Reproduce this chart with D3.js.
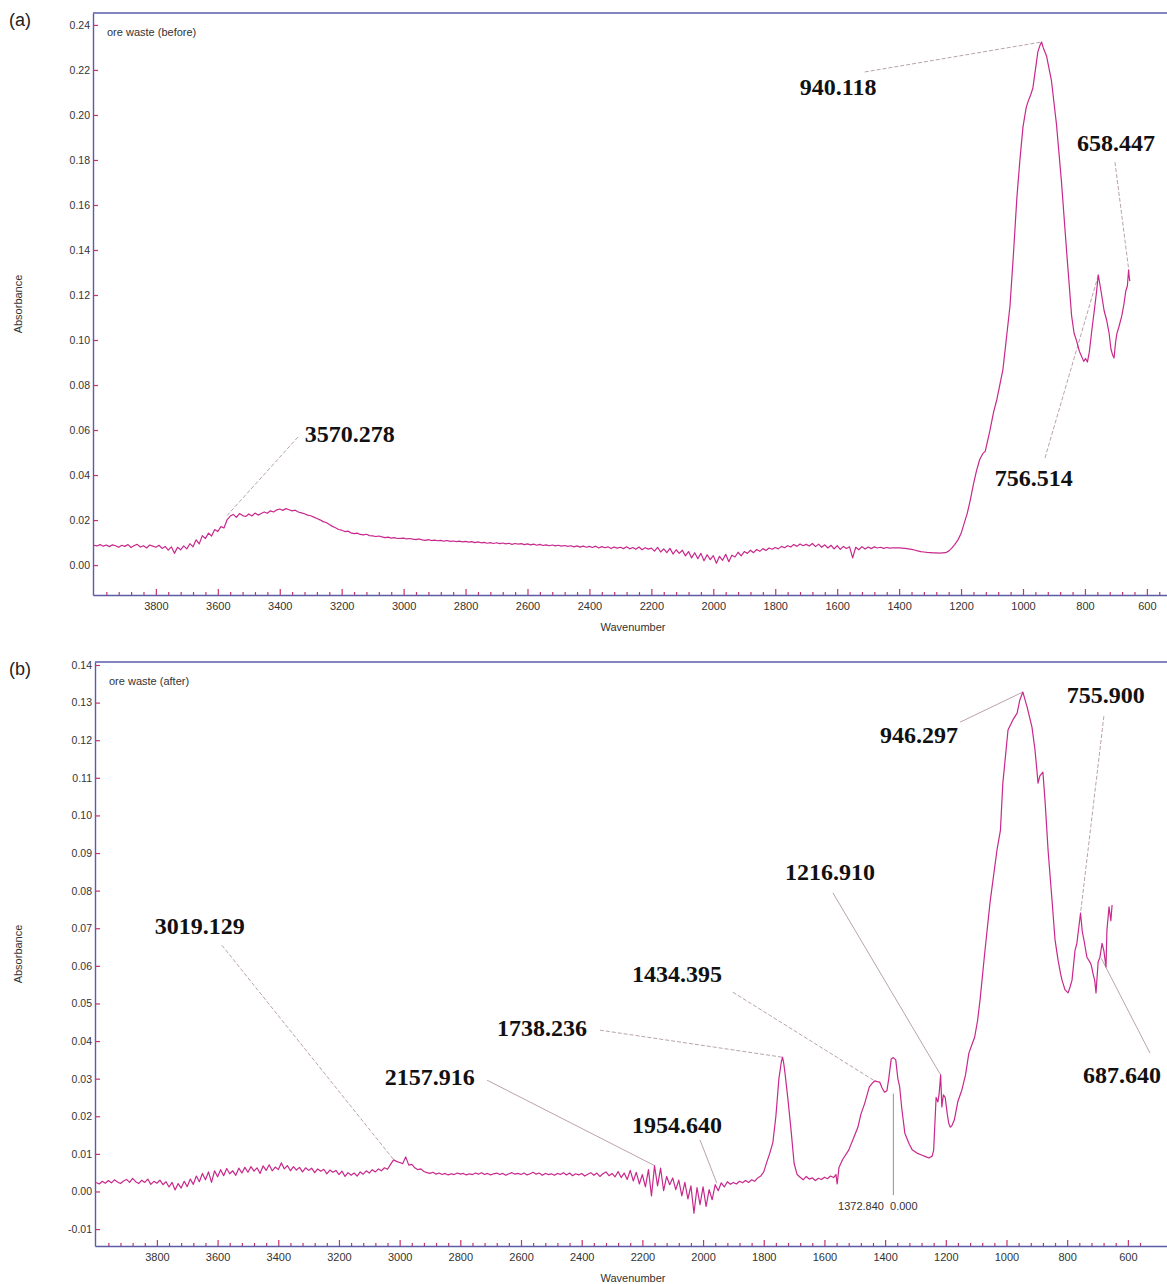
<!DOCTYPE html>
<html>
<head>
<meta charset="utf-8">
<script src="https://cdn.jsdelivr.net/npm/d3@7"></script>
<style>
  body { margin: 0; background: #fff; }
  svg text { font-family: "Liberation Sans", Arial, sans-serif; }
</style>
</head>
<body>
<svg id="chart" width="1167" height="1284"></svg>
<script>
// ---- panel (a): ore waste (before) ----
// baseline part, read every 10 cm-1 from 4000 down to 1260
var beforeBase = [
  0.0088, 0.0085, 0.0091, 0.0084, 0.0089, 0.0082, 0.0090, 0.0086, 0.0079, 0.0088,
  0.0083, 0.0091, 0.0078, 0.0087, 0.0092, 0.0080, 0.0086, 0.0076, 0.0089, 0.0084,
  0.0079, 0.0088, 0.0074, 0.0083, 0.0066, 0.0081, 0.0052, 0.0079, 0.0068, 0.0085,
  0.0072, 0.0095, 0.0081, 0.0112, 0.0094, 0.0131, 0.0118, 0.0142, 0.0129, 0.0158,
  0.0149, 0.0171, 0.0165, 0.0201, 0.0218, 0.0225, 0.0212, 0.0229, 0.0220, 0.0216,
  0.0227, 0.0218, 0.0231, 0.0222, 0.0229, 0.0236, 0.0230, 0.0241, 0.0236, 0.0245,
  0.0249, 0.0243, 0.0251, 0.0246, 0.0241, 0.0244, 0.0236, 0.0232, 0.0228, 0.0222,
  0.0219, 0.0213, 0.0207, 0.0201, 0.0193, 0.0189, 0.0180, 0.0172, 0.0166, 0.0158,
  0.0155, 0.0149, 0.0151, 0.0143, 0.0140, 0.0142, 0.0136, 0.0134, 0.0137, 0.0131,
  0.0130, 0.0127, 0.0129, 0.0125, 0.0122, 0.0124, 0.0120, 0.0122, 0.0118, 0.0119,
  0.0120, 0.0116, 0.0118, 0.0115, 0.0113, 0.0116, 0.0112, 0.0110, 0.0113, 0.0109,
  0.0111, 0.0108, 0.0110, 0.0106, 0.0109, 0.0105, 0.0107, 0.0104, 0.0106, 0.0103,
  0.0105, 0.0102, 0.0104, 0.0100, 0.0103, 0.0099, 0.0101, 0.0097, 0.0100, 0.0096,
  0.0099, 0.0095, 0.0098, 0.0094, 0.0097, 0.0092, 0.0096, 0.0093, 0.0095, 0.0091,
  0.0094, 0.0090, 0.0093, 0.0088, 0.0092, 0.0087, 0.0090, 0.0086, 0.0089, 0.0085,
  0.0088, 0.0084, 0.0087, 0.0083, 0.0086, 0.0081, 0.0085, 0.0080, 0.0084, 0.0079,
  0.0083, 0.0078, 0.0084, 0.0076, 0.0082, 0.0077, 0.0081, 0.0074, 0.0080, 0.0075,
  0.0079, 0.0073, 0.0081, 0.0072, 0.0078, 0.0070, 0.0080, 0.0068, 0.0077, 0.0071,
  0.0075, 0.0062, 0.0079, 0.0058, 0.0072, 0.0055, 0.0074, 0.0049, 0.0068, 0.0052,
  0.0066, 0.0041, 0.0060, 0.0032, 0.0055, 0.0028, 0.0052, 0.0019, 0.0046, 0.0024,
  0.0042, 0.0008, 0.0039, 0.0021, 0.0048, 0.0015, 0.0044, 0.0036, 0.0057, 0.0041,
  0.0060, 0.0052, 0.0066, 0.0055, 0.0069, 0.0061, 0.0073, 0.0065, 0.0076, 0.0070,
  0.0078, 0.0072, 0.0083, 0.0077, 0.0086, 0.0080, 0.0091, 0.0083, 0.0094, 0.0086,
  0.0092, 0.0085, 0.0096, 0.0082, 0.0093, 0.0079, 0.0090, 0.0076, 0.0088, 0.0072,
  0.0086, 0.0070, 0.0083, 0.0074, 0.0081, 0.0032, 0.0079, 0.0068, 0.0082, 0.0071,
  0.0080, 0.0073, 0.0081, 0.0076, 0.0079, 0.0074, 0.0078, 0.0075, 0.0077, 0.0076,
  0.0076, 0.0075, 0.0074, 0.0072, 0.0070, 0.0067, 0.0063, 0.0060, 0.0058, 0.0056,
  0.0055, 0.0054, 0.0054, 0.0053, 0.0054
];
// band region [wavenumber, absorbance]
var beforeBands = [
  [1250, 0.0055], [1240, 0.0062], [1230, 0.0075], [1220, 0.0092], [1210, 0.0112],
  [1200, 0.0140], [1190, 0.0185], [1180, 0.0230], [1170, 0.0290], [1160, 0.0360],
  [1150, 0.0420], [1140, 0.0468], [1130, 0.0495], [1122, 0.0505], [1107, 0.0596],
  [1095, 0.0680], [1084, 0.0738], [1065, 0.0867], [1055, 0.0990], [1042, 0.1151],
  [1030, 0.1400], [1020, 0.1627], [1010, 0.1800], [1000, 0.1947], [990, 0.2030],
  [984, 0.2058], [975, 0.2090], [968, 0.2120], [960, 0.2200], [952, 0.2280],
  [945, 0.2310], [940, 0.2324], [935, 0.2300], [924, 0.2262], [908, 0.2151],
  [892, 0.1960], [876, 0.1707], [859, 0.1391], [843, 0.1107], [835, 0.1030],
  [827, 0.0996], [818, 0.0950], [810, 0.0925], [804, 0.0905], [798, 0.0918],
  [792, 0.0902], [786, 0.0945], [778, 0.1040], [768, 0.1151], [762, 0.1220],
  [757, 0.1289], [752, 0.1250], [746, 0.1200], [738, 0.1130], [730, 0.1089],
  [722, 0.1030], [716, 0.0960], [711, 0.0935], [706, 0.0920], [701, 0.0990],
  [697, 0.1027], [690, 0.1060], [681, 0.1107], [674, 0.1160], [668, 0.1218],
  [663, 0.1240], [659, 0.1311], [657, 0.1280], [655, 0.1262]
];

// ---- panel (b): ore waste (after) ----
// baseline part, every 10 cm-1 from 4000 down to 1880
var afterBase = [
  0.0024, 0.0020, 0.0027, 0.0022, 0.0029, 0.0023, 0.0031, 0.0025, 0.0021, 0.0028,
  0.0032, 0.0024, 0.0035, 0.0026, 0.0021, 0.0030, 0.0024, 0.0033, 0.0019, 0.0027,
  0.0022, 0.0030, 0.0018, 0.0026, 0.0012, 0.0024, 0.0004, 0.0021, 0.0009, 0.0027,
  0.0013, 0.0033, 0.0019, 0.0041, 0.0026, 0.0048, 0.0031, 0.0052, 0.0024, 0.0055,
  0.0039, 0.0058, 0.0042, 0.0061, 0.0047, 0.0055, 0.0043, 0.0062, 0.0049, 0.0064,
  0.0051, 0.0066, 0.0054, 0.0063, 0.0048, 0.0068, 0.0056, 0.0071, 0.0055, 0.0065,
  0.0058, 0.0076, 0.0060, 0.0069, 0.0055, 0.0066, 0.0057, 0.0064, 0.0052, 0.0063,
  0.0056, 0.0062, 0.0050, 0.0060, 0.0054, 0.0059, 0.0047, 0.0057, 0.0051, 0.0056,
  0.0045, 0.0054, 0.0040, 0.0050, 0.0043, 0.0049, 0.0041, 0.0052, 0.0046, 0.0055,
  0.0049, 0.0058, 0.0052, 0.0060, 0.0055, 0.0063, 0.0059, 0.0072, 0.0084, 0.0080,
  0.0077, 0.0074, 0.0092, 0.0070, 0.0072, 0.0063, 0.0058, 0.0060, 0.0053, 0.0050,
  0.0048, 0.0051, 0.0046, 0.0049, 0.0045, 0.0048, 0.0044, 0.0047, 0.0045, 0.0049,
  0.0046, 0.0048, 0.0044, 0.0047, 0.0045, 0.0049, 0.0046, 0.0050, 0.0045, 0.0048,
  0.0044, 0.0047, 0.0049, 0.0045, 0.0048, 0.0043, 0.0047, 0.0050, 0.0046, 0.0048,
  0.0045, 0.0049, 0.0044, 0.0047, 0.0051, 0.0046, 0.0049, 0.0043, 0.0048, 0.0045,
  0.0047, 0.0043, 0.0048, 0.0045, 0.0050, 0.0044, 0.0049, 0.0042, 0.0047, 0.0044,
  0.0048, 0.0041, 0.0046, 0.0050, 0.0043, 0.0049, 0.0040, 0.0047, 0.0052, 0.0042,
  0.0048, 0.0039, 0.0053, 0.0037, 0.0049, 0.0032, 0.0056, 0.0028, 0.0051, 0.0020,
  0.0045, 0.0012, 0.0058, -0.0012, 0.0068, 0.0015, 0.0062, 0.0002, 0.0040, 0.0018,
  0.0036, 0.0005, 0.0030, -0.0012, 0.0024, -0.0020, 0.0015, -0.0058, 0.0010, -0.0035,
  0.0012, -0.0040, 0.0005, -0.0022, 0.0018, 0.0002, 0.0023, 0.0012, 0.0026, 0.0019,
  0.0024, 0.0020, 0.0027
];
var afterBands = [
  [1870, 0.0023], [1860, 0.0029], [1850, 0.0024], [1840, 0.0031], [1830, 0.0027],
  [1820, 0.0036], [1810, 0.0041], [1800, 0.0052], [1790, 0.0078], [1780, 0.0102],
  [1770, 0.0130], [1760, 0.0200], [1750, 0.0300], [1742, 0.0345], [1738, 0.0357],
  [1734, 0.0340], [1730, 0.0315], [1720, 0.0243], [1710, 0.0163], [1700, 0.0075],
  [1690, 0.0045], [1680, 0.0038], [1670, 0.0031], [1660, 0.0040], [1650, 0.0033],
  [1640, 0.0036], [1630, 0.0029], [1620, 0.0035], [1610, 0.0032], [1600, 0.0038],
  [1590, 0.0034], [1580, 0.0041], [1570, 0.0037], [1562, 0.0045], [1558, 0.0020],
  [1552, 0.0064], [1540, 0.0085], [1520, 0.0110], [1500, 0.0150], [1490, 0.0170],
  [1480, 0.0205], [1467, 0.0235], [1452, 0.0278], [1440, 0.0290], [1434, 0.0294],
  [1426, 0.0292], [1418, 0.0291], [1410, 0.0275], [1402, 0.0264], [1394, 0.0268],
  [1388, 0.0300], [1380, 0.0352], [1373, 0.0356], [1365, 0.0350], [1358, 0.0300],
  [1352, 0.0278], [1345, 0.0220], [1335, 0.0155], [1320, 0.0125], [1310, 0.0110],
  [1295, 0.0102], [1280, 0.0097], [1265, 0.0092], [1256, 0.0089], [1245, 0.0094],
  [1240, 0.0110], [1232, 0.0250], [1226, 0.0238], [1222, 0.0260], [1217, 0.0310],
  [1213, 0.0225], [1208, 0.0257], [1202, 0.0250], [1195, 0.0205], [1190, 0.0180],
  [1185, 0.0171], [1180, 0.0175], [1172, 0.0190], [1160, 0.0240], [1147, 0.0270],
  [1135, 0.0310], [1124, 0.0368], [1112, 0.0395], [1105, 0.0410], [1095, 0.0456],
  [1087, 0.0510], [1071, 0.0640], [1054, 0.0770], [1031, 0.0910], [1020, 0.0960],
  [1012, 0.1086], [995, 0.1227], [979, 0.1254], [965, 0.1272], [956, 0.1307],
  [946, 0.1328], [932, 0.1288], [916, 0.1235], [906, 0.1174], [896, 0.1086],
  [890, 0.1105], [880, 0.1115], [873, 0.1040], [863, 0.0908], [850, 0.0775],
  [840, 0.0669], [830, 0.0615], [822, 0.0580], [817, 0.0562], [807, 0.0536],
  [797, 0.0528], [790, 0.0545], [784, 0.0562], [774, 0.0642], [768, 0.0660],
  [762, 0.0700], [756, 0.0740], [750, 0.0690], [745, 0.0670], [735, 0.0623],
  [725, 0.0610], [720, 0.0600], [715, 0.0580], [709, 0.0560], [705, 0.0528],
  [698, 0.0610], [692, 0.0623], [685, 0.0660], [679, 0.0640], [672, 0.0597],
  [669, 0.0695], [662, 0.0757], [656, 0.0720], [652, 0.0762]
];

// ticks
var xMajorTicks = [3800, 3600, 3400, 3200, 3000, 2800, 2600, 2400, 2200, 2000, 1800, 1600, 1400, 1200, 1000, 800, 600];
var aYTicks = [0.00, 0.02, 0.04, 0.06, 0.08, 0.10, 0.12, 0.14, 0.16, 0.18, 0.20, 0.22, 0.24];
var bYTicks = [-0.01, 0.00, 0.01, 0.02, 0.03, 0.04, 0.05, 0.06, 0.07, 0.08, 0.09, 0.10, 0.11, 0.12, 0.13, 0.14];

// peak annotations: value, where the text sits and where the leader starts (data units)
var aPeakText = ["940.118", "658.447", "756.514", "3570.278"];
var aPeakWn   = [940.118, 658.447, 756.514, 3570.278];
var aPeakAbs  = [0.2324, 0.1311, 0.1289, 0.0220];
var aTextWn   = [1721, 826, 1091, 3319];
var aTextAbs  = [0.2089, 0.1840, 0.0351, 0.0547];
var aLeadWn   = [1511, 703, 929, 3341];
var aLeadAbs  = [0.2191, 0.1790, 0.0476, 0.0569];

var bPeakText = ["946.297", "755.900", "1216.910", "3019.129", "1434.395", "1738.236", "2157.916", "1954.640", "687.640"];
var bPeakWn   = [946.297, 755.900, 1216.910, 3019.129, 1434.395, 1738.236, 2157.916, 1954.640, 687.640];
var bPeakAbs  = [0.1328, 0.0740, 0.0310, 0.0084, 0.0294, 0.0357, 0.0068, 0.0022, 0.0620];
var bTextWn   = [1417, 801, 1730, 3807, 2234, 2679, 3049, 2234, 748];
var bTextAbs  = [0.1193, 0.1299, 0.0828, 0.0684, 0.0557, 0.0413, 0.0283, 0.0155, 0.0288];
var bLeadWn   = [1153, 679, 1572, 3586, 1902, 2340, 2712, 2010, 527];
var bLeadAbs  = [0.1248, 0.1264, 0.0794, 0.0655, 0.0530, 0.0429, 0.0296, 0.0137, 0.0368];

var W = 1167;
var svg = d3.select("#chart");
var axisBlue = "#5b5ba8";
var tickRed = "#c8326e";
var curveColor = "#c8288c";

function toSeries(grid, vals, bands) {
  return grid.map(function(w, i) { return [w, vals[i]]; }).concat(bands);
}

function drawPanel(p) {
  var g = svg.append("g");
  var x = d3.scaleLinear().domain(p.xDomain).range([p.left, W]);
  var y = d3.scaleLinear().domain(p.yDomain).range([p.bottom, p.top]);

  g.append("clipPath").attr("id", p.id + "-clip")
    .append("rect").attr("x", p.left).attr("y", p.top)
    .attr("width", W - p.left).attr("height", p.bottom - p.top);

  // top frame line
  g.append("line")
    .attr("x1", p.left).attr("x2", W).attr("y1", p.top).attr("y2", p.top)
    .attr("stroke", axisBlue).attr("stroke-width", 1.4);

  // y axis
  var yAxis = d3.axisLeft(y).tickValues(p.yTicks)
    .tickFormat(function(d) { return d.toFixed(2); })
    .tickSizeInner(-5).tickSizeOuter(0).tickPadding(3);
  var ya = g.append("g").attr("transform", "translate(" + p.left + ",0)").call(yAxis);
  ya.select(".domain").attr("stroke", axisBlue).attr("stroke-width", 1.4);
  ya.selectAll(".tick line").attr("stroke", tickRed).attr("stroke-width", 1.2);
  ya.selectAll(".tick text").attr("fill", "#333").style("font-size", "10.5px");

  // x axis, major + minor ticks pointing inwards
  var minor = d3.range(3960, 540, -40).filter(function(v) { return v % 200 !== 0; });
  var xMinor = d3.axisBottom(x).tickValues(minor).tickSizeInner(-3).tickSizeOuter(0).tickFormat("");
  var xm = g.append("g").attr("transform", "translate(0," + p.bottom + ")").call(xMinor);
  xm.select(".domain").remove();
  xm.selectAll(".tick line").attr("stroke", tickRed).attr("stroke-width", 1.2);

  var xAxis = d3.axisBottom(x).tickValues(xMajorTicks)
    .tickFormat(function(d) { return String(d); })
    .tickSizeInner(-6).tickSizeOuter(0).tickPadding(7);
  var xa = g.append("g").attr("transform", "translate(0," + p.bottom + ")").call(xAxis);
  xa.select(".domain").attr("stroke", axisBlue).attr("stroke-width", 1.4);
  xa.selectAll(".tick line").attr("stroke", tickRed).attr("stroke-width", 1.2);
  xa.selectAll(".tick text").attr("fill", "#333").style("font-size", "11px");

  // axis titles
  g.append("text").attr("x", 633).attr("y", p.bottom + 36)
    .attr("text-anchor", "middle").attr("fill", "#333").style("font-size", "11px")
    .text("Wavenumber");
  g.append("text")
    .attr("transform", "translate(22," + ((p.top + p.bottom) / 2) + ") rotate(-90)")
    .attr("text-anchor", "middle").attr("fill", "#333").style("font-size", "11px")
    .text("Absorbance");

  // panel letter and sample name
  g.append("text").attr("x", 9).attr("y", p.top + 13)
    .attr("fill", "#222").style("font-size", "18px").text(p.letter);
  g.append("text").attr("x", p.left + 14).attr("y", p.top + 23)
    .attr("fill", "#333").style("font-size", "11px").text(p.name);

  // leader lines
  g.append("g").selectAll("line").data(p.peaks).join("line")
    .attr("x1", function(d) { return x(d.lw); }).attr("y1", function(d) { return y(d.la); })
    .attr("x2", function(d) { return x(d.w); }).attr("y2", function(d) { return y(d.a); })
    .attr("stroke", "#b9a3ab").attr("stroke-width", 1)
    .attr("stroke-dasharray", function(d) { return d.dash ? "4,2" : null; });

  // spectrum
  var line = d3.line().x(function(d) { return x(d[0]); }).y(function(d) { return y(d[1]); });
  g.append("path").datum(p.series)
    .attr("clip-path", "url(#" + p.id + "-clip)")
    .attr("d", line).attr("fill", "none")
    .attr("stroke", curveColor).attr("stroke-width", 1.2).attr("stroke-linejoin", "round");

  // peak labels
  g.append("g").selectAll("text").data(p.peaks).join("text")
    .attr("x", function(d) { return x(d.tw); }).attr("y", function(d) { return y(d.ta); })
    .style("font-family", "'Liberation Serif', 'Times New Roman', serif")
    .style("font-weight", "bold").style("font-size", "24px").attr("fill", "#111")
    .text(function(d) { return d.text; });

  return { x: x, y: y, g: g };
}

function peaks(text, wn, abs, tw, ta, lw, la, solid) {
  return text.map(function(t, i) {
    return { text: t, w: wn[i], a: abs[i], tw: tw[i], ta: ta[i], lw: lw[i], la: la[i], dash: solid.indexOf(t) < 0 };
  });
}

drawPanel({
  id: "a", letter: "(a)", name: "ore waste (before)",
  left: 93, top: 13, bottom: 595,
  xDomain: [4003, 535], yDomain: [-0.0133, 0.2453], yTicks: aYTicks,
  series: toSeries(d3.range(4000, 1255, -10), beforeBase, beforeBands),
  peaks: peaks(aPeakText, aPeakWn, aPeakAbs, aTextWn, aTextAbs, aLeadWn, aLeadAbs, [])
});

var pb = drawPanel({
  id: "b", letter: "(b)", name: "ore waste (after)",
  left: 95, top: 662, bottom: 1246,
  xDomain: [4004, 471], yDomain: [-0.0145, 0.1408], yTicks: bYTicks,
  series: toSeries(d3.range(4000, 1875, -10), afterBase, afterBands),
  peaks: peaks(bPeakText, bPeakWn, bPeakAbs, bTextWn, bTextAbs, bLeadWn, bLeadAbs,
    ["946.297", "1216.910", "2157.916", "1954.640", "687.640"])
});

// cursor marker at 1372.840 in panel (b)
pb.g.append("line")
  .attr("x1", pb.x(1372.84)).attr("x2", pb.x(1372.84))
  .attr("y1", pb.y(0.026)).attr("y2", pb.y(-0.001))
  .attr("stroke", "#9a8e92").attr("stroke-width", 1);
pb.g.append("text")
  .attr("x", pb.x(1555)).attr("y", pb.y(-0.0049))
  .attr("fill", "#333").style("font-size", "11px")
  .text("1372.840\u00a0\u00a00.000");
</script>
</body>
</html>
